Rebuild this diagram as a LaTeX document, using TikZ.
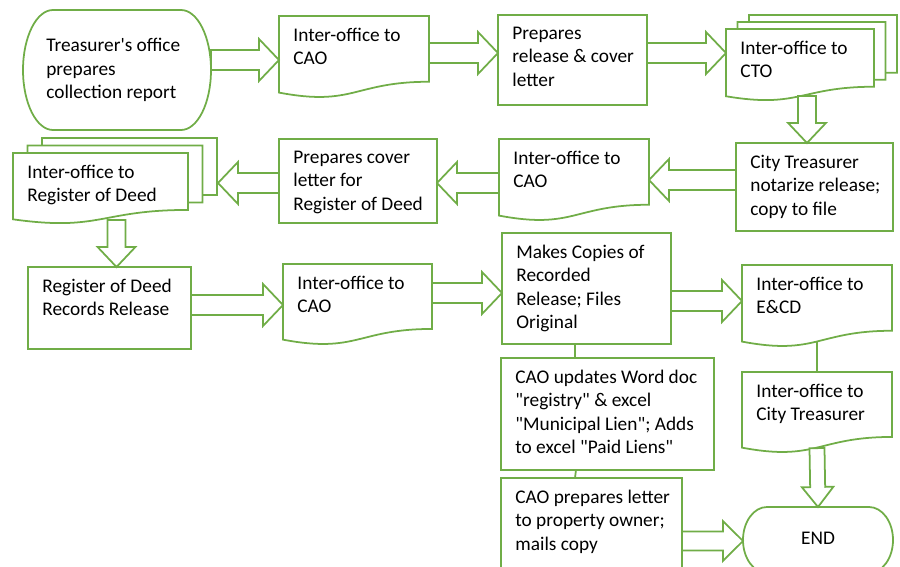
\documentclass[tikz,border=0pt]{standalone}
\usepackage{fontspec}
\setmainfont{Carlito}[Ligatures=TeXOff]
\usetikzlibrary{calc,fit}
\definecolor{flowgreen}{HTML}{70AD47}
\newcommand{\stepfont}{\fontsize{11}{13.4}\selectfont}
\newcommand{\docshape}[1]{%
  \draw[flowline] ($(#1.north west)!0.934!(#1.south west)$) -- (#1.north west) -- (#1.north east)
    -- ($(#1.north east)!0.802!(#1.south east)$)
    .. controls ($(#1.north)!0.802!(#1.south)$) and ($(#1.north)!1.1075!(#1.south)$)
    .. ($(#1.north west)!0.934!(#1.south west)$) -- cycle;}
\newcommand{\backpages}[3]{%
  \foreach \k in {1,2}{
    \draw[flowline] ($(#1.north west)+(\k*#2,-\k*#3+#3)$) -- ($(#1.north west)+(\k*#2,-\k*#3)$)
      -- ($(#1.north east)+(\k*#2,-\k*#3)$)
      -- ($(#1.north east)!0.802!(#1.south east)+(\k*#2,-\k*#3)$)
      -- ($(#1.north east)!0.802!(#1.south east)+(\k*#2-#2,-\k*#3)$);}}
\newcommand{\termshape}[3]{%
  \draw[flowline] ($(#1.north west)+(#2,0)$) -- ($(#1.north east)+(-#2,0)$)
    arc[start angle=90, end angle=-90, x radius=#2*0.02cm, y radius=#3*0.02cm]
    -- ($(#1.south west)+(#2,0)$)
    arc[start angle=270, end angle=90, x radius=#2*0.02cm, y radius=#3*0.02cm] -- cycle;}
\newcommand{\barrow}[3][10]{%
  \draw[flowline, fill=white, line join=miter] ($(#2)!#1*0.02cm!90:(#3)$)
    -- ($(#3)!20*0.02cm!(#2)!#1*0.02cm!90:(#3)$)
    -- ($(#3)!20*0.02cm!(#2)!2.1*#1*0.02cm!90:(#3)$) -- (#3)
    -- ($(#3)!20*0.02cm!(#2)!2.1*#1*0.02cm!-90:(#3)$)
    -- ($(#3)!20*0.02cm!(#2)!#1*0.02cm!-90:(#3)$)
    -- ($(#2)!#1*0.02cm!-90:(#3)$) -- cycle;}

\begin{document}
\begin{tikzpicture}[x=0.02cm, y=-0.02cm,
  flowline/.style={draw=flowgreen, line width=1pt},
  box/.style={inner sep=0pt, outer sep=0pt},
  procbox/.style={box, flowline},
  txt/.style={anchor=north west, align=left, inner xsep=8pt, inner ysep=6.5pt, font=\stepfont}]
\useasboundingbox (0,0) rectangle (900,567);
\clip (0,0) rectangle (900,567);

% row 1
\node[box, fit={(23,10) (211,130)}] (start) {};
\node[box, fit={(279,16) (429,98)}] (cao1) {};
\node[procbox, fit={(498,15) (647,105)}] (rel) {};
\node[box, fit={(726,29) (874,101)}] (cto) {};
% row 2
\node[procbox, fit={(736,143) (893,231)}] (ctr) {};
\node[box, fit={(499,139) (649,221)}] (cao2) {};
\node[procbox, fit={(279,139) (437,223)}] (cov) {};
\node[box, fit={(13,153) (188,224)}] (rod) {};
% row 3
\node[procbox, fit={(28,267) (191,349)}] (rec) {};
\node[box, fit={(283,264) (432,345)}] (cao3) {};
\node[procbox, fit={(502,233) (671,344)}] (copy) {};
\node[box, fit={(742,265) (892,347)}] (ecd) {};
\node[box, fit={(742,372) (892,453)}] (ctrdoc) {};
\node[procbox, fit={(501,358) (714,470)}] (upd) {};
\node[procbox, fit={(501,478) (682,610)}] (ltr) {};
\node[box, fit={(743,507) (893,573)}] (end) {};

\termshape{start}{30}{60}
\termshape{end}{24}{33}
\docshape{cao1}
\docshape{cao2}
\docshape{cao3}
\docshape{ecd}
\docshape{ctrdoc}
\backpages{cto}{11.5}{7}
\docshape{cto}
\backpages{rod}{14.5}{7.5}
\docshape{rod}

\node[anchor=west, align=left, inner sep=0pt, font=\stepfont] (startT) at ($(start.west)+(23,0)$)
  {Treasurer's office\\prepares\\collection report};
\node[txt] (cao1T) at (cao1.north west) {Inter-office to\\CAO};
\node[txt] (relT) at (rel.north west) {Prepares\\release \& cover\\letter};
\node[txt] (ctoT) at (cto.north west) {Inter-office to\\CTO};
\node[txt] (ctrT) at (ctr.north west) {City Treasurer\\notarize release;\\copy to file};
\node[txt] (cao2T) at (cao2.north west) {Inter-office to\\CAO};
\node[txt] (covT) at (cov.north west) {Prepares cover\\letter for\\Register of Deed};
\node[txt] (rodT) at (rod.north west) {Inter-office to\\Register of Deed};
\node[txt] (recT) at (rec.north west) {Register of Deed\\Records Release};
\node[txt] (cao3T) at (cao3.north west) {Inter-office to\\CAO};
\node[txt] (copyT) at (copy.north west) {Makes Copies of\\Recorded\\Release; Files\\Original};
\node[txt] (ecdT) at (ecd.north west) {Inter-office to\\E\&CD};
\node[txt] (ctrdocT) at (ctrdoc.north west) {Inter-office to\\City Treasurer};
\node[txt] (updT) at (upd.north west) {CAO updates Word doc\\"registry" \& excel\\"Municipal Lien"; Adds\\to excel "Paid Liens"};
\node[txt] (ltrT) at (ltr.north west) {CAO prepares letter\\to property owner;\\mails copy};
\node[font=\stepfont, inner sep=0pt] (endT) at ($(end)+(0,-2)$) {END};

\coordinate (ctoS) at ($(cto.north)!0.93!(cto.south)+(7,0)$);
\coordinate (rodS) at ($(rod.south)+(16,-4)$);
\coordinate (rodE) at ($(rod.east |- 0,183)+(30,0)$);
\coordinate (ctrdocS) at ($(ctrdoc.north)!0.94!(ctrdoc.south)$);

\barrow{start.east |- 0,60}{cao1.west |- 0,60}
\barrow{cao1.east |- 0,53}{rel.west |- 0,53}
\barrow{rel.east |- 0,53}{cto.west |- 0,53}
\barrow[9]{ctoS}{ctr.north -| ctoS}
\barrow{ctr.west |- 0,180}{cao2.east |- 0,180}
\barrow{cao2.west |- 0,183}{cov.east |- 0,183}
\barrow{cov.west |- 0,183}{rodE}
\barrow[9]{rodS}{rec.north -| rodS}
\barrow{rec.east |- 0,305}{cao3.west |- 0,305}
\barrow{cao3.east |- 0,293}{copy.west |- 0,293}
\barrow{copy.east |- 0,301}{ecd.west |- 0,301}
\barrow[7.5]{ctrdocS}{end.north}
\barrow[9.5]{ltr.east |- 0,541}{end.west |- 0,541}

\draw[flowline] (copy.south -| 575,0) -- (upd.north -| 575,0);
\draw[flowline] (upd.south -| 576,0) -- (ltr.north -| 575,0);
\draw[flowline] ($(ecd.north)!0.933!(ecd.south)$) -- (ctrdoc.north);
\end{tikzpicture}
\end{document}
